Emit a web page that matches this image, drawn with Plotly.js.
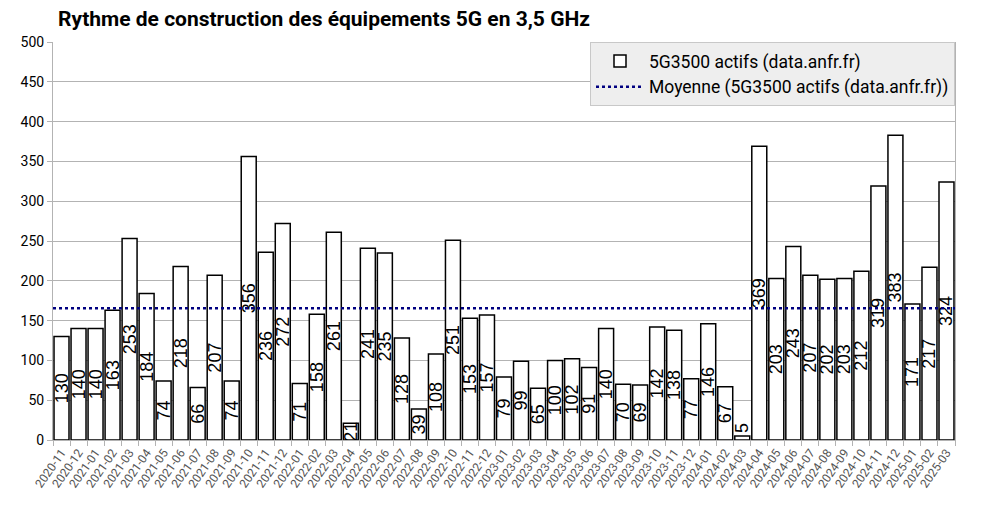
<!DOCTYPE html>
<html>
<head>
<meta charset="utf-8">
<script src="https://cdn.plot.ly/plotly-3.0.1.min.js"></script>
<style>html,body{margin:0;padding:0;background:#fff;}#chart{width:985px;height:508px;}</style>
</head>
<body>
<div id="chart"></div>
<script>
const months = ["2020-11","2020-12","2021-01","2021-02","2021-03","2021-04","2021-05","2021-06","2021-07","2021-08","2021-09","2021-10","2021-11","2021-12",
"2022-01","2022-02","2022-03","2022-04","2022-05","2022-06","2022-07","2022-08","2022-09","2022-10","2022-11","2022-12",
"2023-01","2023-02","2023-03","2023-04","2023-05","2023-06","2023-07","2023-08","2023-09","2023-10","2023-11","2023-12",
"2024-01","2024-02","2024-03","2024-04","2024-05","2024-06","2024-07","2024-08","2024-09","2024-10","2024-11","2024-12",
"2025-01","2025-02","2025-03"];
const installs = [130,140,140,163,253,184,74,218,66,207,74,356,236,272,
71,158,261,21,241,235,128,39,108,251,153,157,
79,99,65,100,102,91,140,70,69,142,138,77,
146,67,5,369,203,243,207,202,203,212,319,383,
171,217,324];
const meanValue = 165.6;
const seriesName = "5G3500 actifs (data.anfr.fr)";
const meanName = "Moyenne (5G3500 actifs (data.anfr.fr))";
const titleText = "Rythme de construction des équipements 5G en 3,5 GHz";
const yTicks = [0,50,100,150,200,250,300,350,400,450,500];

const bars = {
  type: "bar",
  x: months,
  y: installs,
  name: seriesName,
  text: installs.map(String),
  textposition: installs.map(v => v < 10 ? "outside" : "inside"),
  insidetextanchor: "middle",
  textangle: -90,
  constraintext: "none",
  cliponaxis: false,
  textfont: {family: "Liberation Sans, Arial, sans-serif", size: 18, color: "#000"},
  marker: {color: "#ffffff", line: {color: "#000000", width: 1.5}},
  hoverinfo: "x+y"
};
const meanLine = {
  type: "scatter",
  mode: "lines",
  x: [0, 1],
  y: [meanValue, meanValue],
  xaxis: "x2",
  name: meanName,
  line: {color: "#000080", width: 2.5, dash: "dot"},
  hoverinfo: "y"
};

const layout = {
  width: 985, height: 508,
  margin: {l: 53, r: 30, t: 42, b: 68},
  paper_bgcolor: "#ffffff",
  plot_bgcolor: "#ffffff",
  font: {family: "Roboto, sans-serif", color: "#000"},
  title: {text: titleText, x: 0.059, xanchor: "left", y: 0.978, yanchor: "top",
          font: {family: "Roboto, sans-serif", size: 21, color: "#000", weight: "bold"}},
  bargap: 0.12,
  showlegend: true,
  legend: {x: 1, xanchor: "right", y: 1, yanchor: "top", bgcolor: "#eeeeee",
           bordercolor: "#c8c8c8", borderwidth: 1, itemwidth: 48,
           font: {family: "Roboto, sans-serif", size: 17.5, color: "#000"},
           tracegroupgap: 0, traceorder: "normal"},
  xaxis: {type: "category", tickangle: -55, tickson: "boundaries", ticks: "outside",
          ticklen: 5, tickcolor: "#b3b3b3", showline: true, linecolor: "#b3b3b3", linewidth: 1,
          showgrid: false, tickfont: {family: "Roboto, sans-serif", size: 12, color: "#555"},
          automargin: false},
  xaxis2: {overlaying: "x", range: [0, 1], visible: false, fixedrange: true},
  yaxis: {range: [0, 500], tickvals: yTicks, ticks: "outside", ticklen: 5, tickcolor: "#b3b3b3",
          showline: true, mirror: true, linecolor: "#b3b3b3", linewidth: 1,
          gridcolor: "#b3b3b3", gridwidth: 1, zeroline: false,
          tickfont: {family: "Roboto, sans-serif", size: 14, color: "#000"}, automargin: false}
};

Plotly.newPlot("chart", [bars, meanLine], layout, {displayModeBar: false, staticPlot: true});
</script>
</body>
</html>
